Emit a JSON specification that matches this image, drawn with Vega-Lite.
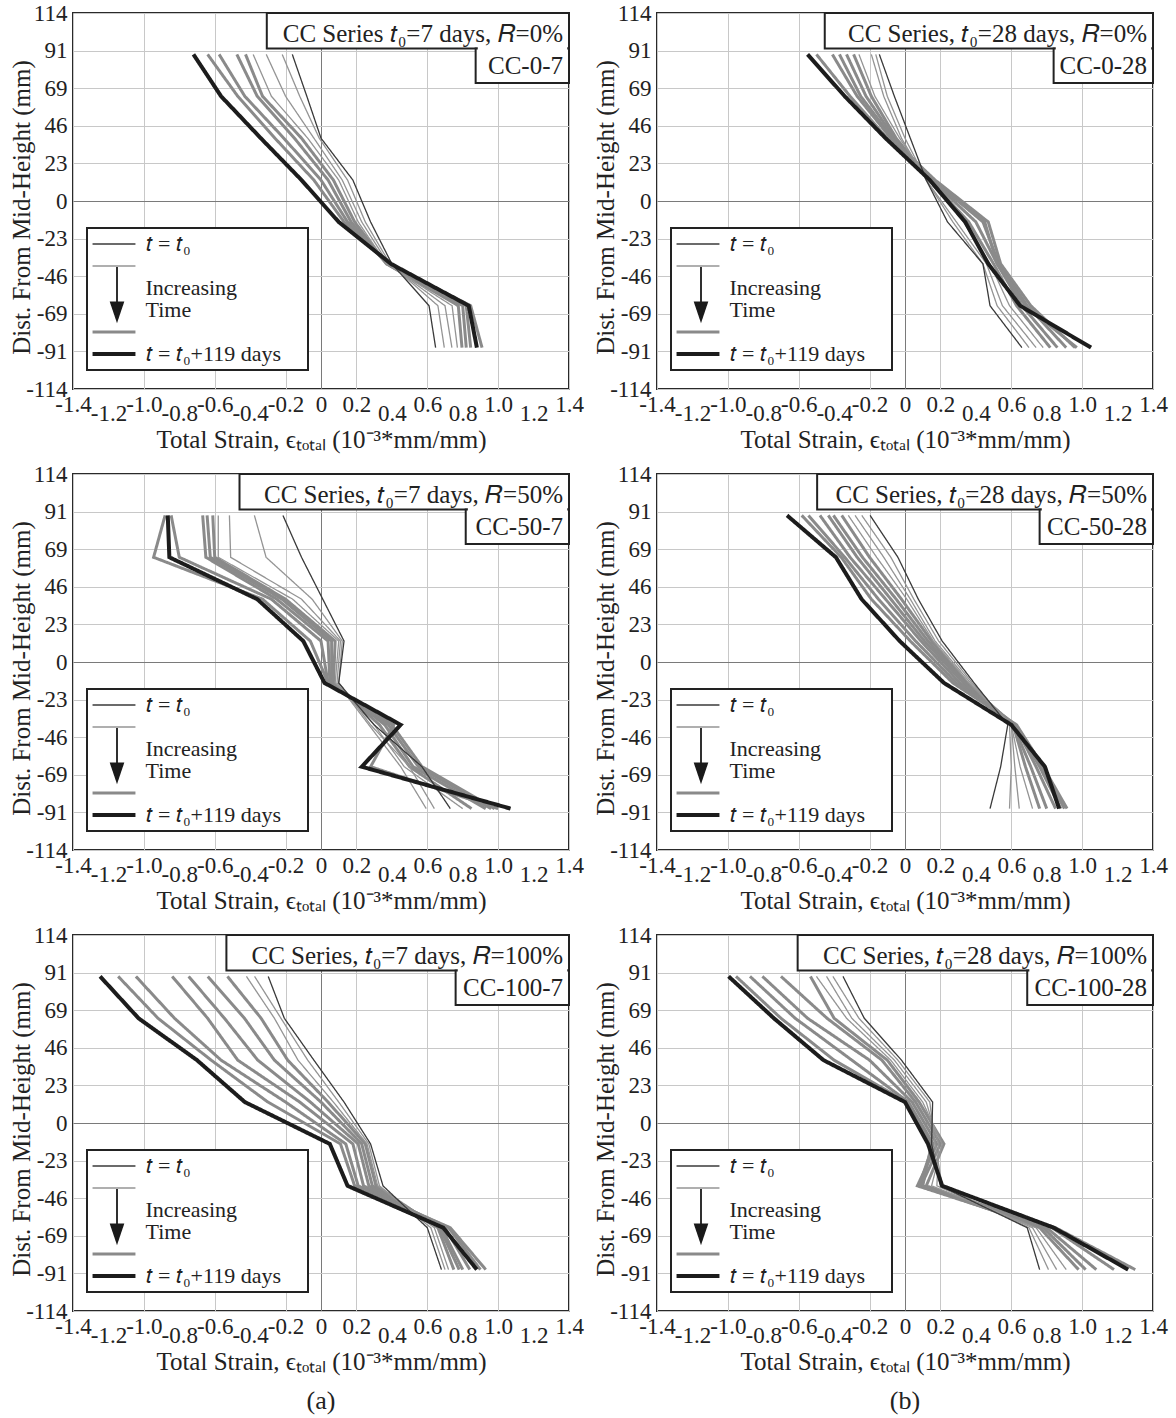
{
"$schema": "https://vega.github.io/schema/vega-lite/v6.json",
"background": "white",
"padding": {"left": 8, "top": 1, "right": 5, "bottom": 0},
"bounds": "flush",
"columns": 2,
"spacing": {"row": 85, "column": 88},
"config": {
 "font": "Liberation Serif",
 "view": {"stroke": "#2a2a2a", "strokeWidth": 2},
 "axis": {"labelFont": "Liberation Serif", "titleFont": "Liberation Serif", "labelFontSize": 23, "titleFontSize": 25, "titleFontWeight": "normal", "labelColor": "#222", "titleColor": "#222", "domain": false, "ticks": false, "grid": true, "gridWidth": 1, "gridColor": "#c8c8c8", "tickCount": 30},
 "title": {"font": "Liberation Serif", "fontSize": 26, "fontWeight": "normal", "color": "#222"},
 "text": {"font": "Liberation Serif"}
},
"resolve": {"scale": {"x": "independent", "y": "independent", "color": "independent", "strokeDash": "independent"}, "axis": {"x": "independent", "y": "independent"}, "legend": {"color": "independent", "strokeDash": "independent"}},
"datasets": {
"p1": [
{"c":5,"s":"c","e":-0.426,"y":88.9},{"c":5,"s":"c","e":-0.33,"y":63.5},{"c":5,"s":"c","e":-0.11,"y":38.1},{"c":5,"s":"c","e":0.07,"y":12.7},{"c":5,"s":"c","e":0.19,"y":-12.7},{"c":5,"s":"c","e":0.37,"y":-38.1},{"c":5,"s":"c","e":0.775,"y":-63.5},{"c":5,"s":"c","e":0.796,"y":-88.9},
{"c":6,"s":"c","e":-0.475,"y":88.9},{"c":6,"s":"c","e":-0.36,"y":63.5},{"c":6,"s":"c","e":-0.15,"y":38.1},{"c":6,"s":"c","e":0.04,"y":12.7},{"c":6,"s":"c","e":0.17,"y":-12.7},{"c":6,"s":"c","e":0.37,"y":-38.1},{"c":6,"s":"c","e":0.8,"y":-63.5},{"c":6,"s":"c","e":0.82,"y":-88.9},
{"c":7,"s":"c","e":-0.575,"y":88.9},{"c":7,"s":"c","e":-0.43,"y":63.5},{"c":7,"s":"c","e":-0.21,"y":38.1},{"c":7,"s":"c","e":0.0,"y":12.7},{"c":7,"s":"c","e":0.15,"y":-12.7},{"c":7,"s":"c","e":0.38,"y":-38.1},{"c":7,"s":"c","e":0.82,"y":-63.5},{"c":7,"s":"c","e":0.845,"y":-88.9},
{"c":8,"s":"c","e":-0.64,"y":88.9},{"c":8,"s":"c","e":-0.47,"y":63.5},{"c":8,"s":"c","e":-0.26,"y":38.1},{"c":8,"s":"c","e":-0.04,"y":12.7},{"c":8,"s":"c","e":0.13,"y":-12.7},{"c":8,"s":"c","e":0.38,"y":-38.1},{"c":8,"s":"c","e":0.845,"y":-63.5},{"c":8,"s":"c","e":0.909,"y":-88.9},
{"c":2,"s":"b","e":-0.219,"y":88.9},{"c":2,"s":"b","e":-0.12,"y":63.5},{"c":2,"s":"b","e":-0.01,"y":38.1},{"c":2,"s":"b","e":0.15,"y":12.7},{"c":2,"s":"b","e":0.25,"y":-12.7},{"c":2,"s":"b","e":0.39,"y":-38.1},{"c":2,"s":"b","e":0.66,"y":-63.5},{"c":2,"s":"b","e":0.696,"y":-88.9},
{"c":3,"s":"b","e":-0.309,"y":88.9},{"c":3,"s":"b","e":-0.2,"y":63.5},{"c":3,"s":"b","e":-0.04,"y":38.1},{"c":3,"s":"b","e":0.12,"y":12.7},{"c":3,"s":"b","e":0.23,"y":-12.7},{"c":3,"s":"b","e":0.38,"y":-38.1},{"c":3,"s":"b","e":0.7,"y":-63.5},{"c":3,"s":"b","e":0.739,"y":-88.9},
{"c":4,"s":"b","e":-0.383,"y":88.9},{"c":4,"s":"b","e":-0.28,"y":63.5},{"c":4,"s":"b","e":-0.075,"y":38.1},{"c":4,"s":"b","e":0.1,"y":12.7},{"c":4,"s":"b","e":0.21,"y":-12.7},{"c":4,"s":"b","e":0.37,"y":-38.1},{"c":4,"s":"b","e":0.74,"y":-63.5},{"c":4,"s":"b","e":0.77,"y":-88.9},
{"c":1,"s":"a","e":-0.162,"y":88.9},{"c":1,"s":"a","e":-0.08,"y":63.5},{"c":1,"s":"a","e":0.0,"y":38.1},{"c":1,"s":"a","e":0.18,"y":12.7},{"c":1,"s":"a","e":0.28,"y":-12.7},{"c":1,"s":"a","e":0.4,"y":-38.1},{"c":1,"s":"a","e":0.61,"y":-63.5},{"c":1,"s":"a","e":0.647,"y":-88.9},
{"c":9,"s":"d","e":-0.72,"y":88.9},{"c":9,"s":"d","e":-0.564,"y":63.5},{"c":9,"s":"d","e":-0.34,"y":38.1},{"c":9,"s":"d","e":-0.11,"y":12.7},{"c":9,"s":"d","e":0.1,"y":-12.7},{"c":9,"s":"d","e":0.395,"y":-38.1},{"c":9,"s":"d","e":0.834,"y":-63.5},{"c":9,"s":"d","e":0.88,"y":-88.9}
],
"p2": [
{"c":5,"s":"c","e":-0.29,"y":88.9},{"c":5,"s":"c","e":-0.19,"y":63.5},{"c":5,"s":"c","e":-0.05,"y":38.1},{"c":5,"s":"c","e":0.14,"y":12.7},{"c":5,"s":"c","e":0.36,"y":-12.7},{"c":5,"s":"c","e":0.5,"y":-38.1},{"c":5,"s":"c","e":0.63,"y":-63.5},{"c":5,"s":"c","e":0.82,"y":-88.9},
{"c":6,"s":"c","e":-0.33,"y":88.9},{"c":6,"s":"c","e":-0.22,"y":63.5},{"c":6,"s":"c","e":-0.06,"y":38.1},{"c":6,"s":"c","e":0.15,"y":12.7},{"c":6,"s":"c","e":0.4,"y":-12.7},{"c":6,"s":"c","e":0.52,"y":-38.1},{"c":6,"s":"c","e":0.66,"y":-63.5},{"c":6,"s":"c","e":0.86,"y":-88.9},
{"c":7,"s":"c","e":-0.37,"y":88.9},{"c":7,"s":"c","e":-0.25,"y":63.5},{"c":7,"s":"c","e":-0.07,"y":38.1},{"c":7,"s":"c","e":0.16,"y":12.7},{"c":7,"s":"c","e":0.44,"y":-12.7},{"c":7,"s":"c","e":0.53,"y":-38.1},{"c":7,"s":"c","e":0.69,"y":-63.5},{"c":7,"s":"c","e":0.91,"y":-88.9},
{"c":8,"s":"c","e":-0.41,"y":88.9},{"c":8,"s":"c","e":-0.27,"y":63.5},{"c":8,"s":"c","e":-0.08,"y":38.1},{"c":8,"s":"c","e":0.17,"y":12.7},{"c":8,"s":"c","e":0.47,"y":-12.7},{"c":8,"s":"c","e":0.54,"y":-38.1},{"c":8,"s":"c","e":0.71,"y":-63.5},{"c":8,"s":"c","e":0.96,"y":-88.9},
{"c":9,"s":"c","e":-0.5,"y":88.9},{"c":9,"s":"c","e":-0.31,"y":63.5},{"c":9,"s":"c","e":-0.1,"y":38.1},{"c":9,"s":"c","e":0.15,"y":12.7},{"c":9,"s":"c","e":0.45,"y":-12.7},{"c":9,"s":"c","e":0.52,"y":-38.1},{"c":9,"s":"c","e":0.68,"y":-63.5},{"c":9,"s":"c","e":0.97,"y":-88.9},
{"c":2,"s":"b","e":-0.165,"y":88.9},{"c":2,"s":"b","e":-0.1,"y":63.5},{"c":2,"s":"b","e":0.0,"y":38.1},{"c":2,"s":"b","e":0.12,"y":12.7},{"c":2,"s":"b","e":0.27,"y":-12.7},{"c":2,"s":"b","e":0.44,"y":-38.1},{"c":2,"s":"b","e":0.52,"y":-63.5},{"c":2,"s":"b","e":0.7,"y":-88.9},
{"c":3,"s":"b","e":-0.19,"y":88.9},{"c":3,"s":"b","e":-0.12,"y":63.5},{"c":3,"s":"b","e":-0.02,"y":38.1},{"c":3,"s":"b","e":0.12,"y":12.7},{"c":3,"s":"b","e":0.29,"y":-12.7},{"c":3,"s":"b","e":0.46,"y":-38.1},{"c":3,"s":"b","e":0.55,"y":-63.5},{"c":3,"s":"b","e":0.74,"y":-88.9},
{"c":4,"s":"b","e":-0.26,"y":88.9},{"c":4,"s":"b","e":-0.17,"y":63.5},{"c":4,"s":"b","e":-0.03,"y":38.1},{"c":4,"s":"b","e":0.13,"y":12.7},{"c":4,"s":"b","e":0.33,"y":-12.7},{"c":4,"s":"b","e":0.48,"y":-38.1},{"c":4,"s":"b","e":0.59,"y":-63.5},{"c":4,"s":"b","e":0.78,"y":-88.9},
{"c":1,"s":"a","e":-0.145,"y":88.9},{"c":1,"s":"a","e":-0.06,"y":63.5},{"c":1,"s":"a","e":0.03,"y":38.1},{"c":1,"s":"a","e":0.12,"y":12.7},{"c":1,"s":"a","e":0.24,"y":-12.7},{"c":1,"s":"a","e":0.44,"y":-38.1},{"c":1,"s":"a","e":0.48,"y":-63.5},{"c":1,"s":"a","e":0.66,"y":-88.9},
{"c":10,"s":"d","e":-0.55,"y":88.9},{"c":10,"s":"d","e":-0.34,"y":63.5},{"c":10,"s":"d","e":-0.11,"y":38.1},{"c":10,"s":"d","e":0.14,"y":12.7},{"c":10,"s":"d","e":0.34,"y":-12.7},{"c":10,"s":"d","e":0.47,"y":-38.1},{"c":10,"s":"d","e":0.65,"y":-63.5},{"c":10,"s":"d","e":1.05,"y":-88.9}
],
"p3": [
{"c":5,"s":"c","e":-0.611,"y":88.9},{"c":5,"s":"c","e":-0.6,"y":63.5},{"c":5,"s":"c","e":-0.2,"y":38.1},{"c":5,"s":"c","e":0.08,"y":12.7},{"c":5,"s":"c","e":0.07,"y":-12.7},{"c":5,"s":"c","e":0.33,"y":-38.1},{"c":5,"s":"c","e":0.5,"y":-63.5},{"c":5,"s":"c","e":0.85,"y":-88.9},
{"c":6,"s":"c","e":-0.643,"y":88.9},{"c":6,"s":"c","e":-0.625,"y":63.5},{"c":6,"s":"c","e":-0.22,"y":38.1},{"c":6,"s":"c","e":0.06,"y":12.7},{"c":6,"s":"c","e":0.06,"y":-12.7},{"c":6,"s":"c","e":0.36,"y":-38.1},{"c":6,"s":"c","e":0.52,"y":-63.5},{"c":6,"s":"c","e":0.93,"y":-88.9},
{"c":7,"s":"c","e":-0.668,"y":88.9},{"c":7,"s":"c","e":-0.65,"y":63.5},{"c":7,"s":"c","e":-0.25,"y":38.1},{"c":7,"s":"c","e":0.04,"y":12.7},{"c":7,"s":"c","e":0.05,"y":-12.7},{"c":7,"s":"c","e":0.38,"y":-38.1},{"c":7,"s":"c","e":0.55,"y":-63.5},{"c":7,"s":"c","e":0.96,"y":-88.9},
{"c":8,"s":"c","e":-0.846,"y":88.9},{"c":8,"s":"c","e":-0.8,"y":63.5},{"c":8,"s":"c","e":-0.28,"y":38.1},{"c":8,"s":"c","e":0.0,"y":12.7},{"c":8,"s":"c","e":0.04,"y":-12.7},{"c":8,"s":"c","e":0.4,"y":-38.1},{"c":8,"s":"c","e":0.57,"y":-63.5},{"c":8,"s":"c","e":0.98,"y":-88.9},
{"c":9,"s":"c","e":-0.88,"y":88.9},{"c":9,"s":"c","e":-0.945,"y":63.5},{"c":9,"s":"c","e":-0.33,"y":38.1},{"c":9,"s":"c","e":-0.06,"y":12.7},{"c":9,"s":"c","e":0.04,"y":-12.7},{"c":9,"s":"c","e":0.41,"y":-38.1},{"c":9,"s":"c","e":0.28,"y":-63.5},{"c":9,"s":"c","e":1.0,"y":-88.9},
{"c":2,"s":"b","e":-0.376,"y":88.9},{"c":2,"s":"b","e":-0.31,"y":63.5},{"c":2,"s":"b","e":-0.05,"y":38.1},{"c":2,"s":"b","e":0.12,"y":12.7},{"c":2,"s":"b","e":0.1,"y":-12.7},{"c":2,"s":"b","e":0.28,"y":-38.1},{"c":2,"s":"b","e":0.5,"y":-63.5},{"c":2,"s":"b","e":0.64,"y":-88.9},
{"c":3,"s":"b","e":-0.517,"y":88.9},{"c":3,"s":"b","e":-0.51,"y":63.5},{"c":3,"s":"b","e":-0.11,"y":38.1},{"c":3,"s":"b","e":0.11,"y":12.7},{"c":3,"s":"b","e":0.09,"y":-12.7},{"c":3,"s":"b","e":0.27,"y":-38.1},{"c":3,"s":"b","e":0.45,"y":-63.5},{"c":3,"s":"b","e":0.594,"y":-88.9},
{"c":4,"s":"b","e":-0.58,"y":88.9},{"c":4,"s":"b","e":-0.58,"y":63.5},{"c":4,"s":"b","e":-0.16,"y":38.1},{"c":4,"s":"b","e":0.1,"y":12.7},{"c":4,"s":"b","e":0.08,"y":-12.7},{"c":4,"s":"b","e":0.3,"y":-38.1},{"c":4,"s":"b","e":0.47,"y":-63.5},{"c":4,"s":"b","e":0.8,"y":-88.9},
{"c":1,"s":"a","e":-0.215,"y":88.9},{"c":1,"s":"a","e":-0.11,"y":63.5},{"c":1,"s":"a","e":0.01,"y":38.1},{"c":1,"s":"a","e":0.13,"y":12.7},{"c":1,"s":"a","e":0.1,"y":-12.7},{"c":1,"s":"a","e":0.3,"y":-38.1},{"c":1,"s":"a","e":0.57,"y":-63.5},{"c":1,"s":"a","e":0.73,"y":-88.9},
{"c":10,"s":"d","e":-0.865,"y":88.9},{"c":10,"s":"d","e":-0.856,"y":63.5},{"c":10,"s":"d","e":-0.36,"y":38.1},{"c":10,"s":"d","e":-0.1,"y":12.7},{"c":10,"s":"d","e":0.02,"y":-12.7},{"c":10,"s":"d","e":0.45,"y":-38.1},{"c":10,"s":"d","e":0.23,"y":-63.5},{"c":10,"s":"d","e":1.07,"y":-88.9}
],
"p4": [
{"c":5,"s":"c","e":-0.357,"y":88.9},{"c":5,"s":"c","e":-0.2,"y":63.5},{"c":5,"s":"c","e":-0.02,"y":38.1},{"c":5,"s":"c","e":0.15,"y":12.7},{"c":5,"s":"c","e":0.35,"y":-12.7},{"c":5,"s":"c","e":0.61,"y":-38.1},{"c":5,"s":"c","e":0.68,"y":-63.5},{"c":5,"s":"c","e":0.76,"y":-88.9},
{"c":6,"s":"c","e":-0.404,"y":88.9},{"c":6,"s":"c","e":-0.24,"y":63.5},{"c":6,"s":"c","e":-0.05,"y":38.1},{"c":6,"s":"c","e":0.13,"y":12.7},{"c":6,"s":"c","e":0.34,"y":-12.7},{"c":6,"s":"c","e":0.61,"y":-38.1},{"c":6,"s":"c","e":0.71,"y":-63.5},{"c":6,"s":"c","e":0.8,"y":-88.9},
{"c":7,"s":"c","e":-0.433,"y":88.9},{"c":7,"s":"c","e":-0.27,"y":63.5},{"c":7,"s":"c","e":-0.08,"y":38.1},{"c":7,"s":"c","e":0.11,"y":12.7},{"c":7,"s":"c","e":0.33,"y":-12.7},{"c":7,"s":"c","e":0.62,"y":-38.1},{"c":7,"s":"c","e":0.74,"y":-63.5},{"c":7,"s":"c","e":0.85,"y":-88.9},
{"c":8,"s":"c","e":-0.48,"y":88.9},{"c":8,"s":"c","e":-0.31,"y":63.5},{"c":8,"s":"c","e":-0.11,"y":38.1},{"c":8,"s":"c","e":0.09,"y":12.7},{"c":8,"s":"c","e":0.31,"y":-12.7},{"c":8,"s":"c","e":0.62,"y":-38.1},{"c":8,"s":"c","e":0.76,"y":-63.5},{"c":8,"s":"c","e":0.88,"y":-88.9},
{"c":9,"s":"c","e":-0.545,"y":88.9},{"c":9,"s":"c","e":-0.34,"y":63.5},{"c":9,"s":"c","e":-0.15,"y":38.1},{"c":9,"s":"c","e":0.06,"y":12.7},{"c":9,"s":"c","e":0.29,"y":-12.7},{"c":9,"s":"c","e":0.62,"y":-38.1},{"c":9,"s":"c","e":0.77,"y":-63.5},{"c":9,"s":"c","e":0.9,"y":-88.9},
{"c":10,"s":"c","e":-0.583,"y":88.9},{"c":10,"s":"c","e":-0.36,"y":63.5},{"c":10,"s":"c","e":-0.19,"y":38.1},{"c":10,"s":"c","e":0.03,"y":12.7},{"c":10,"s":"c","e":0.27,"y":-12.7},{"c":10,"s":"c","e":0.63,"y":-38.1},{"c":10,"s":"c","e":0.78,"y":-63.5},{"c":10,"s":"c","e":0.915,"y":-88.9},
{"c":2,"s":"b","e":-0.244,"y":88.9},{"c":2,"s":"b","e":-0.08,"y":63.5},{"c":2,"s":"b","e":0.05,"y":38.1},{"c":2,"s":"b","e":0.19,"y":12.7},{"c":2,"s":"b","e":0.38,"y":-12.7},{"c":2,"s":"b","e":0.59,"y":-38.1},{"c":2,"s":"b","e":0.6,"y":-63.5},{"c":2,"s":"b","e":0.59,"y":-88.9},
{"c":3,"s":"b","e":-0.282,"y":88.9},{"c":3,"s":"b","e":-0.12,"y":63.5},{"c":3,"s":"b","e":0.03,"y":38.1},{"c":3,"s":"b","e":0.17,"y":12.7},{"c":3,"s":"b","e":0.37,"y":-12.7},{"c":3,"s":"b","e":0.6,"y":-38.1},{"c":3,"s":"b","e":0.62,"y":-63.5},{"c":3,"s":"b","e":0.645,"y":-88.9},
{"c":4,"s":"b","e":-0.32,"y":88.9},{"c":4,"s":"b","e":-0.16,"y":63.5},{"c":4,"s":"b","e":0.01,"y":38.1},{"c":4,"s":"b","e":0.16,"y":12.7},{"c":4,"s":"b","e":0.36,"y":-12.7},{"c":4,"s":"b","e":0.6,"y":-38.1},{"c":4,"s":"b","e":0.65,"y":-63.5},{"c":4,"s":"b","e":0.72,"y":-88.9},
{"c":1,"s":"a","e":-0.197,"y":88.9},{"c":1,"s":"a","e":-0.04,"y":63.5},{"c":1,"s":"a","e":0.075,"y":38.1},{"c":1,"s":"a","e":0.21,"y":12.7},{"c":1,"s":"a","e":0.39,"y":-12.7},{"c":1,"s":"a","e":0.58,"y":-38.1},{"c":1,"s":"a","e":0.54,"y":-63.5},{"c":1,"s":"a","e":0.48,"y":-88.9},
{"c":11,"s":"d","e":-0.666,"y":88.9},{"c":11,"s":"d","e":-0.39,"y":63.5},{"c":11,"s":"d","e":-0.245,"y":38.1},{"c":11,"s":"d","e":-0.03,"y":12.7},{"c":11,"s":"d","e":0.22,"y":-12.7},{"c":11,"s":"d","e":0.6,"y":-38.1},{"c":11,"s":"d","e":0.79,"y":-63.5},{"c":11,"s":"d","e":0.87,"y":-88.9}
],
"p5": [
{"c":4,"s":"c","e":-0.528,"y":88.9},{"c":4,"s":"c","e":-0.338,"y":63.5},{"c":4,"s":"c","e":-0.188,"y":38.1},{"c":4,"s":"c","e":0.04,"y":12.7},{"c":4,"s":"c","e":0.25,"y":-12.7},{"c":4,"s":"c","e":0.31,"y":-38.1},{"c":4,"s":"c","e":0.66,"y":-63.5},{"c":4,"s":"c","e":0.75,"y":-88.9},
{"c":5,"s":"c","e":-0.639,"y":88.9},{"c":5,"s":"c","e":-0.432,"y":63.5},{"c":5,"s":"c","e":-0.263,"y":38.1},{"c":5,"s":"c","e":0.0,"y":12.7},{"c":5,"s":"c","e":0.23,"y":-12.7},{"c":5,"s":"c","e":0.29,"y":-38.1},{"c":5,"s":"c","e":0.67,"y":-63.5},{"c":5,"s":"c","e":0.78,"y":-88.9},
{"c":6,"s":"c","e":-0.747,"y":88.9},{"c":6,"s":"c","e":-0.545,"y":63.5},{"c":6,"s":"c","e":-0.357,"y":38.1},{"c":6,"s":"c","e":-0.06,"y":12.7},{"c":6,"s":"c","e":0.21,"y":-12.7},{"c":6,"s":"c","e":0.27,"y":-38.1},{"c":6,"s":"c","e":0.68,"y":-63.5},{"c":6,"s":"c","e":0.8,"y":-88.9},
{"c":7,"s":"c","e":-0.84,"y":88.9},{"c":7,"s":"c","e":-0.64,"y":63.5},{"c":7,"s":"c","e":-0.47,"y":38.1},{"c":7,"s":"c","e":-0.12,"y":12.7},{"c":7,"s":"c","e":0.18,"y":-12.7},{"c":7,"s":"c","e":0.24,"y":-38.1},{"c":7,"s":"c","e":0.7,"y":-63.5},{"c":7,"s":"c","e":0.84,"y":-88.9},
{"c":8,"s":"c","e":-1.045,"y":88.9},{"c":8,"s":"c","e":-0.827,"y":63.5},{"c":8,"s":"c","e":-0.564,"y":38.1},{"c":8,"s":"c","e":-0.2,"y":12.7},{"c":8,"s":"c","e":0.14,"y":-12.7},{"c":8,"s":"c","e":0.21,"y":-38.1},{"c":8,"s":"c","e":0.72,"y":-63.5},{"c":8,"s":"c","e":0.9,"y":-88.9},
{"c":9,"s":"c","e":-1.145,"y":88.9},{"c":9,"s":"c","e":-0.92,"y":63.5},{"c":9,"s":"c","e":-0.62,"y":38.1},{"c":9,"s":"c","e":-0.3,"y":12.7},{"c":9,"s":"c","e":0.11,"y":-12.7},{"c":9,"s":"c","e":0.19,"y":-38.1},{"c":9,"s":"c","e":0.73,"y":-63.5},{"c":9,"s":"c","e":0.93,"y":-88.9},
{"c":2,"s":"b","e":-0.375,"y":88.9},{"c":2,"s":"b","e":-0.226,"y":63.5},{"c":2,"s":"b","e":-0.075,"y":38.1},{"c":2,"s":"b","e":0.1,"y":12.7},{"c":2,"s":"b","e":0.27,"y":-12.7},{"c":2,"s":"b","e":0.33,"y":-38.1},{"c":2,"s":"b","e":0.62,"y":-63.5},{"c":2,"s":"b","e":0.7,"y":-88.9},
{"c":3,"s":"b","e":-0.421,"y":88.9},{"c":3,"s":"b","e":-0.263,"y":63.5},{"c":3,"s":"b","e":-0.13,"y":38.1},{"c":3,"s":"b","e":0.07,"y":12.7},{"c":3,"s":"b","e":0.26,"y":-12.7},{"c":3,"s":"b","e":0.32,"y":-38.1},{"c":3,"s":"b","e":0.64,"y":-63.5},{"c":3,"s":"b","e":0.72,"y":-88.9},
{"c":1,"s":"a","e":-0.298,"y":88.9},{"c":1,"s":"a","e":-0.207,"y":63.5},{"c":1,"s":"a","e":-0.04,"y":38.1},{"c":1,"s":"a","e":0.13,"y":12.7},{"c":1,"s":"a","e":0.28,"y":-12.7},{"c":1,"s":"a","e":0.35,"y":-38.1},{"c":1,"s":"a","e":0.6,"y":-63.5},{"c":1,"s":"a","e":0.68,"y":-88.9},
{"c":10,"s":"d","e":-1.247,"y":88.9},{"c":10,"s":"d","e":-1.03,"y":63.5},{"c":10,"s":"d","e":-0.7,"y":38.1},{"c":10,"s":"d","e":-0.43,"y":12.7},{"c":10,"s":"d","e":0.05,"y":-12.7},{"c":10,"s":"d","e":0.15,"y":-38.1},{"c":10,"s":"d","e":0.69,"y":-63.5},{"c":10,"s":"d","e":0.88,"y":-88.9}
],
"p6": [
{"c":5,"s":"c","e":-0.534,"y":88.9},{"c":5,"s":"c","e":-0.4,"y":63.5},{"c":5,"s":"c","e":-0.1,"y":38.1},{"c":5,"s":"c","e":0.08,"y":12.7},{"c":5,"s":"c","e":0.22,"y":-12.7},{"c":5,"s":"c","e":0.12,"y":-38.1},{"c":5,"s":"c","e":0.76,"y":-63.5},{"c":5,"s":"c","e":0.98,"y":-88.9},
{"c":6,"s":"c","e":-0.7,"y":88.9},{"c":6,"s":"c","e":-0.44,"y":63.5},{"c":6,"s":"c","e":-0.13,"y":38.1},{"c":6,"s":"c","e":0.06,"y":12.7},{"c":6,"s":"c","e":0.2,"y":-12.7},{"c":6,"s":"c","e":0.09,"y":-38.1},{"c":6,"s":"c","e":0.78,"y":-63.5},{"c":6,"s":"c","e":1.02,"y":-88.9},
{"c":7,"s":"c","e":-0.805,"y":88.9},{"c":7,"s":"c","e":-0.55,"y":63.5},{"c":7,"s":"c","e":-0.2,"y":38.1},{"c":7,"s":"c","e":0.04,"y":12.7},{"c":7,"s":"c","e":0.18,"y":-12.7},{"c":7,"s":"c","e":0.07,"y":-38.1},{"c":7,"s":"c","e":0.8,"y":-63.5},{"c":7,"s":"c","e":1.08,"y":-88.9},
{"c":8,"s":"c","e":-0.875,"y":88.9},{"c":8,"s":"c","e":-0.62,"y":63.5},{"c":8,"s":"c","e":-0.3,"y":38.1},{"c":8,"s":"c","e":0.02,"y":12.7},{"c":8,"s":"c","e":0.16,"y":-12.7},{"c":8,"s":"c","e":0.08,"y":-38.1},{"c":8,"s":"c","e":0.83,"y":-63.5},{"c":8,"s":"c","e":1.18,"y":-88.9},
{"c":9,"s":"c","e":-0.954,"y":88.9},{"c":9,"s":"c","e":-0.7,"y":63.5},{"c":9,"s":"c","e":-0.4,"y":38.1},{"c":9,"s":"c","e":0.01,"y":12.7},{"c":9,"s":"c","e":0.15,"y":-12.7},{"c":9,"s":"c","e":0.1,"y":-38.1},{"c":9,"s":"c","e":0.85,"y":-63.5},{"c":9,"s":"c","e":1.3,"y":-88.9},
{"c":2,"s":"b","e":-0.407,"y":88.9},{"c":2,"s":"b","e":-0.26,"y":63.5},{"c":2,"s":"b","e":-0.04,"y":38.1},{"c":2,"s":"b","e":0.14,"y":12.7},{"c":2,"s":"b","e":0.17,"y":-12.7},{"c":2,"s":"b","e":0.21,"y":-38.1},{"c":2,"s":"b","e":0.7,"y":-63.5},{"c":2,"s":"b","e":0.81,"y":-88.9},
{"c":3,"s":"b","e":-0.443,"y":88.9},{"c":3,"s":"b","e":-0.3,"y":63.5},{"c":3,"s":"b","e":-0.06,"y":38.1},{"c":3,"s":"b","e":0.12,"y":12.7},{"c":3,"s":"b","e":0.19,"y":-12.7},{"c":3,"s":"b","e":0.18,"y":-38.1},{"c":3,"s":"b","e":0.72,"y":-63.5},{"c":3,"s":"b","e":0.856,"y":-88.9},
{"c":4,"s":"b","e":-0.5,"y":88.9},{"c":4,"s":"b","e":-0.33,"y":63.5},{"c":4,"s":"b","e":-0.08,"y":38.1},{"c":4,"s":"b","e":0.1,"y":12.7},{"c":4,"s":"b","e":0.21,"y":-12.7},{"c":4,"s":"b","e":0.15,"y":-38.1},{"c":4,"s":"b","e":0.74,"y":-63.5},{"c":4,"s":"b","e":0.91,"y":-88.9},
{"c":1,"s":"a","e":-0.35,"y":88.9},{"c":1,"s":"a","e":-0.23,"y":63.5},{"c":1,"s":"a","e":-0.02,"y":38.1},{"c":1,"s":"a","e":0.156,"y":12.7},{"c":1,"s":"a","e":0.15,"y":-12.7},{"c":1,"s":"a","e":0.2,"y":-38.1},{"c":1,"s":"a","e":0.69,"y":-63.5},{"c":1,"s":"a","e":0.76,"y":-88.9},
{"c":10,"s":"d","e":-0.996,"y":88.9},{"c":10,"s":"d","e":-0.74,"y":63.5},{"c":10,"s":"d","e":-0.46,"y":38.1},{"c":10,"s":"d","e":0.0,"y":12.7},{"c":10,"s":"d","e":0.13,"y":-12.7},{"c":10,"s":"d","e":0.21,"y":-38.1},{"c":10,"s":"d","e":0.84,"y":-63.5},{"c":10,"s":"d","e":1.26,"y":-88.9}
]
},
"concat": [
{"width": 496, "height": 376, "resolve": {"axis": {"x": "independent"}}, "layer": [
 {"data": {"name": "p1"}, "mark": {"type": "line"}, "encoding": {
  "x": {"field": "e", "type": "quantitative", "scale": {"domain": [-1.4, 1.4], "nice": false, "zero": false}, "axis": {"orient": "bottom", "values": [-1.4,-1.0,-0.6,-0.2,0,0.2,0.6,1.0,1.4], "tickCount": 30, "labelExpr": "datum.value == 0 ? '0' : (datum.value < 0 ? '-' : '') + format(abs(datum.value), '.1f')", "labelOverlap": false, "labelBound": false, "labelFlush": false, "labelPadding": 4, "gridColor": {"condition": {"test": "datum.value === 0", "value": "#7a7a7a"}, "value": "#c8c8c8"}, "title": "Total Strain, ϵₜₒₜₐₗ (10⁻³*mm/mm)", "titleY": 50, "titleBaseline": "middle"}},
  "y": {"field": "y", "type": "quantitative", "scale": {"domain": [-114, 114], "nice": false, "zero": false}, "axis": {"values": [-114,-91.2,-68.4,-45.6,-22.8,0,22.8,45.6,68.4,91.2,114], "tickCount": 30, "labelExpr": "(datum.value < 0 ? '-' : '') + (abs(round(datum.value*10)) == 684 ? '69' : format(abs(datum.value), '.0f'))", "labelOverlap": false, "labelPadding": 6, "gridColor": {"condition": {"test": "datum.value === 0", "value": "#7a7a7a"}, "value": "#c8c8c8"}, "title": "Dist. From Mid-Height (mm)", "titleX": -52, "titleY": 194, "titleBaseline": "middle", "titleAlign": "center"}},
  "detail": {"field": "c", "type": "nominal"},
  "order": {"field": "y", "sort": "descending"},
  "color": {"field": "s", "type": "nominal", "scale": {"domain": ["a","b","inc","time","c","d"], "range": ["#3a3a3a","#949494","#1a1a1a","#1a1a1a","#8a8a8a","#1c1c1c"]}, "legend": {"orient": "none", "legendX": 14, "legendY": 215, "title": null, "padding": 5, "rowPadding": 0, "symbolSize": 121, "symbolOffset": 11, "labelOffset": 20.5, "labelFont": "Liberation Serif", "labelFontSize": 22, "labelColor": "#222", "labelLimit": 400, "fillColor": "white", "strokeColor": "#222", "labelExpr": "({'a': '𝑡 = 𝑡₀', 'b': '', 'inc': 'Increasing', 'time': 'Time', 'c': '', 'd': '𝑡 = 𝑡₀+119 days\u00a0\u2800'})[datum.value]", "encode": {"symbols": {"update": {"shape": {"signal": "(datum.value === 'inc' || datum.value === 'time') ? 'M0,0' : 'M-3.9,0H3.9'"}, "strokeWidth": {"signal": "datum.value === 'c' ? 3.2 : datum.value === 'd' ? 4 : 1.3"}, "fill": {"value": "transparent"}}}, "legend": {"update": {"strokeWidth": {"value": 2}}}}}},
  "strokeDash": {"datum": "arrow", "type": "nominal", "scale": {"domain": ["arrow"], "range": [[1, 0]]}, "legend": {"orient": "none", "legendX": 37.5, "legendY": 274.2, "zindex": 1, "title": null, "padding": 0, "symbolSize": 121, "symbolOffset": 0, "labelFontSize": 10, "labelExpr": "''", "encode": {"symbols": {"update": {"shape": {"value": "M0,-4.85V2M-1.1,1.6L0,4.85L1.1,1.6Z"}, "fill": {"value": "#1a1a1a"}, "stroke": {"value": "#1a1a1a"}, "strokeWidth": {"value": 1.8}, "strokeDash": {"value": [1, 0]}, "opacity": {"value": 1}}}}}},
  "strokeWidth": {"condition": [{"test": "datum.s === 'c'", "value": 3}, {"test": "datum.s === 'd'", "value": 4}], "value": 1.3}
 }},
 {"data": {"values": [{}]}, "mark": {"type": "rect", "fill": "white", "stroke": "#222", "strokeWidth": 2}, "encoding": {"x": {"datum": -0.306, "type": "quantitative", "axis": {"orient": "bottom", "values": [-1.2,-0.8,-0.4,0.4,0.8,1.2], "tickCount": 30, "labelExpr": "(datum.value < 0 ? '-' : '') + format(abs(datum.value), '.1f')", "labelOverlap": false, "labelBound": false, "labelFlush": false, "labelPadding": 13, "title": null}}, "x2": {"datum": 1.4}, "y": {"datum": 92.4}, "y2": {"datum": 114}}},
 {"data": {"values": [{}]}, "mark": {"type": "rect", "fill": "white", "stroke": "#222", "strokeWidth": 2}, "encoding": {"x": {"datum": 0.873, "type": "quantitative", "axis": null}, "x2": {"datum": 1.4}, "y": {"datum": 71.6}, "y2": {"datum": 92.4}}},
 {"data": {"values": [{}]}, "mark": {"type": "rule", "stroke": "white", "strokeWidth": 3}, "encoding": {"x": {"datum": 0.885, "type": "quantitative", "axis": null}, "x2": {"datum": 1.39}, "y": {"datum": 92.4}}},
 {"data": {"values": [{}]}, "mark": {"type": "text", "align": "right", "baseline": "middle", "fontSize": 25, "color": "#222"}, "encoding": {"x": {"datum": 1.366, "type": "quantitative", "axis": null}, "y": {"datum": 101.5}, "text": {"value": "CC Series 𝑡₀=7 days, 𝑅=0%"}}},
 {"data": {"values": [{}]}, "mark": {"type": "text", "align": "right", "baseline": "middle", "fontSize": 25, "color": "#222"}, "encoding": {"x": {"datum": 1.366, "type": "quantitative", "axis": null}, "y": {"datum": 82}, "text": {"value": "CC-0-7"}}}
]},
{"width": 496, "height": 376, "resolve": {"axis": {"x": "independent"}}, "layer": [
 {"data": {"name": "p2"}, "mark": {"type": "line"}, "encoding": {
  "x": {"field": "e", "type": "quantitative", "scale": {"domain": [-1.4, 1.4], "nice": false, "zero": false}, "axis": {"orient": "bottom", "values": [-1.4,-1.0,-0.6,-0.2,0,0.2,0.6,1.0,1.4], "tickCount": 30, "labelExpr": "datum.value == 0 ? '0' : (datum.value < 0 ? '-' : '') + format(abs(datum.value), '.1f')", "labelOverlap": false, "labelBound": false, "labelFlush": false, "labelPadding": 4, "gridColor": {"condition": {"test": "datum.value === 0", "value": "#7a7a7a"}, "value": "#c8c8c8"}, "title": "Total Strain, ϵₜₒₜₐₗ (10⁻³*mm/mm)", "titleY": 50, "titleBaseline": "middle"}},
  "y": {"field": "y", "type": "quantitative", "scale": {"domain": [-114, 114], "nice": false, "zero": false}, "axis": {"values": [-114,-91.2,-68.4,-45.6,-22.8,0,22.8,45.6,68.4,91.2,114], "tickCount": 30, "labelExpr": "(datum.value < 0 ? '-' : '') + (abs(round(datum.value*10)) == 684 ? '69' : format(abs(datum.value), '.0f'))", "labelOverlap": false, "labelPadding": 6, "gridColor": {"condition": {"test": "datum.value === 0", "value": "#7a7a7a"}, "value": "#c8c8c8"}, "title": "Dist. From Mid-Height (mm)", "titleX": -52, "titleY": 194, "titleBaseline": "middle", "titleAlign": "center"}},
  "detail": {"field": "c", "type": "nominal"},
  "order": {"field": "y", "sort": "descending"},
  "color": {"field": "s", "type": "nominal", "scale": {"domain": ["a","b","inc","time","c","d"], "range": ["#3a3a3a","#949494","#1a1a1a","#1a1a1a","#8a8a8a","#1c1c1c"]}, "legend": {"orient": "none", "legendX": 14, "legendY": 215, "title": null, "padding": 5, "rowPadding": 0, "symbolSize": 121, "symbolOffset": 11, "labelOffset": 20.5, "labelFont": "Liberation Serif", "labelFontSize": 22, "labelColor": "#222", "labelLimit": 400, "fillColor": "white", "strokeColor": "#222", "labelExpr": "({'a': '𝑡 = 𝑡₀', 'b': '', 'inc': 'Increasing', 'time': 'Time', 'c': '', 'd': '𝑡 = 𝑡₀+119 days\u00a0\u2800'})[datum.value]", "encode": {"symbols": {"update": {"shape": {"signal": "(datum.value === 'inc' || datum.value === 'time') ? 'M0,0' : 'M-3.9,0H3.9'"}, "strokeWidth": {"signal": "datum.value === 'c' ? 3.2 : datum.value === 'd' ? 4 : 1.3"}, "fill": {"value": "transparent"}}}, "legend": {"update": {"strokeWidth": {"value": 2}}}}}},
  "strokeDash": {"datum": "arrow", "type": "nominal", "scale": {"domain": ["arrow"], "range": [[1, 0]]}, "legend": {"orient": "none", "legendX": 37.5, "legendY": 274.2, "zindex": 1, "title": null, "padding": 0, "symbolSize": 121, "symbolOffset": 0, "labelFontSize": 10, "labelExpr": "''", "encode": {"symbols": {"update": {"shape": {"value": "M0,-4.85V2M-1.1,1.6L0,4.85L1.1,1.6Z"}, "fill": {"value": "#1a1a1a"}, "stroke": {"value": "#1a1a1a"}, "strokeWidth": {"value": 1.8}, "strokeDash": {"value": [1, 0]}, "opacity": {"value": 1}}}}}},
  "strokeWidth": {"condition": [{"test": "datum.s === 'c'", "value": 3}, {"test": "datum.s === 'd'", "value": 4}], "value": 1.3}
 }},
 {"data": {"values": [{}]}, "mark": {"type": "rect", "fill": "white", "stroke": "#222", "strokeWidth": 2}, "encoding": {"x": {"datum": -0.453, "type": "quantitative", "axis": {"orient": "bottom", "values": [-1.2,-0.8,-0.4,0.4,0.8,1.2], "tickCount": 30, "labelExpr": "(datum.value < 0 ? '-' : '') + format(abs(datum.value), '.1f')", "labelOverlap": false, "labelBound": false, "labelFlush": false, "labelPadding": 13, "title": null}}, "x2": {"datum": 1.4}, "y": {"datum": 92.4}, "y2": {"datum": 114}}},
 {"data": {"values": [{}]}, "mark": {"type": "rect", "fill": "white", "stroke": "#222", "strokeWidth": 2}, "encoding": {"x": {"datum": 0.839, "type": "quantitative", "axis": null}, "x2": {"datum": 1.4}, "y": {"datum": 71.6}, "y2": {"datum": 92.4}}},
 {"data": {"values": [{}]}, "mark": {"type": "rule", "stroke": "white", "strokeWidth": 3}, "encoding": {"x": {"datum": 0.851, "type": "quantitative", "axis": null}, "x2": {"datum": 1.39}, "y": {"datum": 92.4}}},
 {"data": {"values": [{}]}, "mark": {"type": "text", "align": "right", "baseline": "middle", "fontSize": 25, "color": "#222"}, "encoding": {"x": {"datum": 1.366, "type": "quantitative", "axis": null}, "y": {"datum": 101.5}, "text": {"value": "CC Series, 𝑡₀=28 days, 𝑅=0%"}}},
 {"data": {"values": [{}]}, "mark": {"type": "text", "align": "right", "baseline": "middle", "fontSize": 25, "color": "#222"}, "encoding": {"x": {"datum": 1.366, "type": "quantitative", "axis": null}, "y": {"datum": 82}, "text": {"value": "CC-0-28"}}}
]},
{"width": 496, "height": 376, "resolve": {"axis": {"x": "independent"}}, "layer": [
 {"data": {"name": "p3"}, "mark": {"type": "line"}, "encoding": {
  "x": {"field": "e", "type": "quantitative", "scale": {"domain": [-1.4, 1.4], "nice": false, "zero": false}, "axis": {"orient": "bottom", "values": [-1.4,-1.0,-0.6,-0.2,0,0.2,0.6,1.0,1.4], "tickCount": 30, "labelExpr": "datum.value == 0 ? '0' : (datum.value < 0 ? '-' : '') + format(abs(datum.value), '.1f')", "labelOverlap": false, "labelBound": false, "labelFlush": false, "labelPadding": 4, "gridColor": {"condition": {"test": "datum.value === 0", "value": "#7a7a7a"}, "value": "#c8c8c8"}, "title": "Total Strain, ϵₜₒₜₐₗ (10⁻³*mm/mm)", "titleY": 50, "titleBaseline": "middle"}},
  "y": {"field": "y", "type": "quantitative", "scale": {"domain": [-114, 114], "nice": false, "zero": false}, "axis": {"values": [-114,-91.2,-68.4,-45.6,-22.8,0,22.8,45.6,68.4,91.2,114], "tickCount": 30, "labelExpr": "(datum.value < 0 ? '-' : '') + (abs(round(datum.value*10)) == 684 ? '69' : format(abs(datum.value), '.0f'))", "labelOverlap": false, "labelPadding": 6, "gridColor": {"condition": {"test": "datum.value === 0", "value": "#7a7a7a"}, "value": "#c8c8c8"}, "title": "Dist. From Mid-Height (mm)", "titleX": -52, "titleY": 194, "titleBaseline": "middle", "titleAlign": "center"}},
  "detail": {"field": "c", "type": "nominal"},
  "order": {"field": "y", "sort": "descending"},
  "color": {"field": "s", "type": "nominal", "scale": {"domain": ["a","b","inc","time","c","d"], "range": ["#3a3a3a","#949494","#1a1a1a","#1a1a1a","#8a8a8a","#1c1c1c"]}, "legend": {"orient": "none", "legendX": 14, "legendY": 215, "title": null, "padding": 5, "rowPadding": 0, "symbolSize": 121, "symbolOffset": 11, "labelOffset": 20.5, "labelFont": "Liberation Serif", "labelFontSize": 22, "labelColor": "#222", "labelLimit": 400, "fillColor": "white", "strokeColor": "#222", "labelExpr": "({'a': '𝑡 = 𝑡₀', 'b': '', 'inc': 'Increasing', 'time': 'Time', 'c': '', 'd': '𝑡 = 𝑡₀+119 days\u00a0\u2800'})[datum.value]", "encode": {"symbols": {"update": {"shape": {"signal": "(datum.value === 'inc' || datum.value === 'time') ? 'M0,0' : 'M-3.9,0H3.9'"}, "strokeWidth": {"signal": "datum.value === 'c' ? 3.2 : datum.value === 'd' ? 4 : 1.3"}, "fill": {"value": "transparent"}}}, "legend": {"update": {"strokeWidth": {"value": 2}}}}}},
  "strokeDash": {"datum": "arrow", "type": "nominal", "scale": {"domain": ["arrow"], "range": [[1, 0]]}, "legend": {"orient": "none", "legendX": 37.5, "legendY": 274.2, "zindex": 1, "title": null, "padding": 0, "symbolSize": 121, "symbolOffset": 0, "labelFontSize": 10, "labelExpr": "''", "encode": {"symbols": {"update": {"shape": {"value": "M0,-4.85V2M-1.1,1.6L0,4.85L1.1,1.6Z"}, "fill": {"value": "#1a1a1a"}, "stroke": {"value": "#1a1a1a"}, "strokeWidth": {"value": 1.8}, "strokeDash": {"value": [1, 0]}, "opacity": {"value": 1}}}}}},
  "strokeWidth": {"condition": [{"test": "datum.s === 'c'", "value": 3}, {"test": "datum.s === 'd'", "value": 4}], "value": 1.3}
 }},
 {"data": {"values": [{}]}, "mark": {"type": "rect", "fill": "white", "stroke": "#222", "strokeWidth": 2}, "encoding": {"x": {"datum": -0.46, "type": "quantitative", "axis": {"orient": "bottom", "values": [-1.2,-0.8,-0.4,0.4,0.8,1.2], "tickCount": 30, "labelExpr": "(datum.value < 0 ? '-' : '') + format(abs(datum.value), '.1f')", "labelOverlap": false, "labelBound": false, "labelFlush": false, "labelPadding": 13, "title": null}}, "x2": {"datum": 1.4}, "y": {"datum": 92.4}, "y2": {"datum": 114}}},
 {"data": {"values": [{}]}, "mark": {"type": "rect", "fill": "white", "stroke": "#222", "strokeWidth": 2}, "encoding": {"x": {"datum": 0.817, "type": "quantitative", "axis": null}, "x2": {"datum": 1.4}, "y": {"datum": 71.6}, "y2": {"datum": 92.4}}},
 {"data": {"values": [{}]}, "mark": {"type": "rule", "stroke": "white", "strokeWidth": 3}, "encoding": {"x": {"datum": 0.829, "type": "quantitative", "axis": null}, "x2": {"datum": 1.39}, "y": {"datum": 92.4}}},
 {"data": {"values": [{}]}, "mark": {"type": "text", "align": "right", "baseline": "middle", "fontSize": 25, "color": "#222"}, "encoding": {"x": {"datum": 1.366, "type": "quantitative", "axis": null}, "y": {"datum": 101.5}, "text": {"value": "CC Series, 𝑡₀=7 days, 𝑅=50%"}}},
 {"data": {"values": [{}]}, "mark": {"type": "text", "align": "right", "baseline": "middle", "fontSize": 25, "color": "#222"}, "encoding": {"x": {"datum": 1.366, "type": "quantitative", "axis": null}, "y": {"datum": 82}, "text": {"value": "CC-50-7"}}}
]},
{"width": 496, "height": 376, "resolve": {"axis": {"x": "independent"}}, "layer": [
 {"data": {"name": "p4"}, "mark": {"type": "line"}, "encoding": {
  "x": {"field": "e", "type": "quantitative", "scale": {"domain": [-1.4, 1.4], "nice": false, "zero": false}, "axis": {"orient": "bottom", "values": [-1.4,-1.0,-0.6,-0.2,0,0.2,0.6,1.0,1.4], "tickCount": 30, "labelExpr": "datum.value == 0 ? '0' : (datum.value < 0 ? '-' : '') + format(abs(datum.value), '.1f')", "labelOverlap": false, "labelBound": false, "labelFlush": false, "labelPadding": 4, "gridColor": {"condition": {"test": "datum.value === 0", "value": "#7a7a7a"}, "value": "#c8c8c8"}, "title": "Total Strain, ϵₜₒₜₐₗ (10⁻³*mm/mm)", "titleY": 50, "titleBaseline": "middle"}},
  "y": {"field": "y", "type": "quantitative", "scale": {"domain": [-114, 114], "nice": false, "zero": false}, "axis": {"values": [-114,-91.2,-68.4,-45.6,-22.8,0,22.8,45.6,68.4,91.2,114], "tickCount": 30, "labelExpr": "(datum.value < 0 ? '-' : '') + (abs(round(datum.value*10)) == 684 ? '69' : format(abs(datum.value), '.0f'))", "labelOverlap": false, "labelPadding": 6, "gridColor": {"condition": {"test": "datum.value === 0", "value": "#7a7a7a"}, "value": "#c8c8c8"}, "title": "Dist. From Mid-Height (mm)", "titleX": -52, "titleY": 194, "titleBaseline": "middle", "titleAlign": "center"}},
  "detail": {"field": "c", "type": "nominal"},
  "order": {"field": "y", "sort": "descending"},
  "color": {"field": "s", "type": "nominal", "scale": {"domain": ["a","b","inc","time","c","d"], "range": ["#3a3a3a","#949494","#1a1a1a","#1a1a1a","#8a8a8a","#1c1c1c"]}, "legend": {"orient": "none", "legendX": 14, "legendY": 215, "title": null, "padding": 5, "rowPadding": 0, "symbolSize": 121, "symbolOffset": 11, "labelOffset": 20.5, "labelFont": "Liberation Serif", "labelFontSize": 22, "labelColor": "#222", "labelLimit": 400, "fillColor": "white", "strokeColor": "#222", "labelExpr": "({'a': '𝑡 = 𝑡₀', 'b': '', 'inc': 'Increasing', 'time': 'Time', 'c': '', 'd': '𝑡 = 𝑡₀+119 days\u00a0\u2800'})[datum.value]", "encode": {"symbols": {"update": {"shape": {"signal": "(datum.value === 'inc' || datum.value === 'time') ? 'M0,0' : 'M-3.9,0H3.9'"}, "strokeWidth": {"signal": "datum.value === 'c' ? 3.2 : datum.value === 'd' ? 4 : 1.3"}, "fill": {"value": "transparent"}}}, "legend": {"update": {"strokeWidth": {"value": 2}}}}}},
  "strokeDash": {"datum": "arrow", "type": "nominal", "scale": {"domain": ["arrow"], "range": [[1, 0]]}, "legend": {"orient": "none", "legendX": 37.5, "legendY": 274.2, "zindex": 1, "title": null, "padding": 0, "symbolSize": 121, "symbolOffset": 0, "labelFontSize": 10, "labelExpr": "''", "encode": {"symbols": {"update": {"shape": {"value": "M0,-4.85V2M-1.1,1.6L0,4.85L1.1,1.6Z"}, "fill": {"value": "#1a1a1a"}, "stroke": {"value": "#1a1a1a"}, "strokeWidth": {"value": 1.8}, "strokeDash": {"value": [1, 0]}, "opacity": {"value": 1}}}}}},
  "strokeWidth": {"condition": [{"test": "datum.s === 'c'", "value": 3}, {"test": "datum.s === 'd'", "value": 4}], "value": 1.3}
 }},
 {"data": {"values": [{}]}, "mark": {"type": "rect", "fill": "white", "stroke": "#222", "strokeWidth": 2}, "encoding": {"x": {"datum": -0.496, "type": "quantitative", "axis": {"orient": "bottom", "values": [-1.2,-0.8,-0.4,0.4,0.8,1.2], "tickCount": 30, "labelExpr": "(datum.value < 0 ? '-' : '') + format(abs(datum.value), '.1f')", "labelOverlap": false, "labelBound": false, "labelFlush": false, "labelPadding": 13, "title": null}}, "x2": {"datum": 1.4}, "y": {"datum": 92.4}, "y2": {"datum": 114}}},
 {"data": {"values": [{}]}, "mark": {"type": "rect", "fill": "white", "stroke": "#222", "strokeWidth": 2}, "encoding": {"x": {"datum": 0.76, "type": "quantitative", "axis": null}, "x2": {"datum": 1.4}, "y": {"datum": 71.6}, "y2": {"datum": 92.4}}},
 {"data": {"values": [{}]}, "mark": {"type": "rule", "stroke": "white", "strokeWidth": 3}, "encoding": {"x": {"datum": 0.772, "type": "quantitative", "axis": null}, "x2": {"datum": 1.39}, "y": {"datum": 92.4}}},
 {"data": {"values": [{}]}, "mark": {"type": "text", "align": "right", "baseline": "middle", "fontSize": 25, "color": "#222"}, "encoding": {"x": {"datum": 1.366, "type": "quantitative", "axis": null}, "y": {"datum": 101.5}, "text": {"value": "CC Series, 𝑡₀=28 days, 𝑅=50%"}}},
 {"data": {"values": [{}]}, "mark": {"type": "text", "align": "right", "baseline": "middle", "fontSize": 25, "color": "#222"}, "encoding": {"x": {"datum": 1.366, "type": "quantitative", "axis": null}, "y": {"datum": 82}, "text": {"value": "CC-50-28"}}}
]},
{"width": 496, "height": 376, "title": {"text": "(a)", "orient": "bottom", "offset": 14}, "resolve": {"axis": {"x": "independent"}}, "layer": [
 {"data": {"name": "p5"}, "mark": {"type": "line"}, "encoding": {
  "x": {"field": "e", "type": "quantitative", "scale": {"domain": [-1.4, 1.4], "nice": false, "zero": false}, "axis": {"orient": "bottom", "values": [-1.4,-1.0,-0.6,-0.2,0,0.2,0.6,1.0,1.4], "tickCount": 30, "labelExpr": "datum.value == 0 ? '0' : (datum.value < 0 ? '-' : '') + format(abs(datum.value), '.1f')", "labelOverlap": false, "labelBound": false, "labelFlush": false, "labelPadding": 4, "gridColor": {"condition": {"test": "datum.value === 0", "value": "#7a7a7a"}, "value": "#c8c8c8"}, "title": "Total Strain, ϵₜₒₜₐₗ (10⁻³*mm/mm)", "titleY": 50, "titleBaseline": "middle"}},
  "y": {"field": "y", "type": "quantitative", "scale": {"domain": [-114, 114], "nice": false, "zero": false}, "axis": {"values": [-114,-91.2,-68.4,-45.6,-22.8,0,22.8,45.6,68.4,91.2,114], "tickCount": 30, "labelExpr": "(datum.value < 0 ? '-' : '') + (abs(round(datum.value*10)) == 684 ? '69' : format(abs(datum.value), '.0f'))", "labelOverlap": false, "labelPadding": 6, "gridColor": {"condition": {"test": "datum.value === 0", "value": "#7a7a7a"}, "value": "#c8c8c8"}, "title": "Dist. From Mid-Height (mm)", "titleX": -52, "titleY": 194, "titleBaseline": "middle", "titleAlign": "center"}},
  "detail": {"field": "c", "type": "nominal"},
  "order": {"field": "y", "sort": "descending"},
  "color": {"field": "s", "type": "nominal", "scale": {"domain": ["a","b","inc","time","c","d"], "range": ["#3a3a3a","#949494","#1a1a1a","#1a1a1a","#8a8a8a","#1c1c1c"]}, "legend": {"orient": "none", "legendX": 14, "legendY": 215, "title": null, "padding": 5, "rowPadding": 0, "symbolSize": 121, "symbolOffset": 11, "labelOffset": 20.5, "labelFont": "Liberation Serif", "labelFontSize": 22, "labelColor": "#222", "labelLimit": 400, "fillColor": "white", "strokeColor": "#222", "labelExpr": "({'a': '𝑡 = 𝑡₀', 'b': '', 'inc': 'Increasing', 'time': 'Time', 'c': '', 'd': '𝑡 = 𝑡₀+119 days\u00a0\u2800'})[datum.value]", "encode": {"symbols": {"update": {"shape": {"signal": "(datum.value === 'inc' || datum.value === 'time') ? 'M0,0' : 'M-3.9,0H3.9'"}, "strokeWidth": {"signal": "datum.value === 'c' ? 3.2 : datum.value === 'd' ? 4 : 1.3"}, "fill": {"value": "transparent"}}}, "legend": {"update": {"strokeWidth": {"value": 2}}}}}},
  "strokeDash": {"datum": "arrow", "type": "nominal", "scale": {"domain": ["arrow"], "range": [[1, 0]]}, "legend": {"orient": "none", "legendX": 37.5, "legendY": 274.2, "zindex": 1, "title": null, "padding": 0, "symbolSize": 121, "symbolOffset": 0, "labelFontSize": 10, "labelExpr": "''", "encode": {"symbols": {"update": {"shape": {"value": "M0,-4.85V2M-1.1,1.6L0,4.85L1.1,1.6Z"}, "fill": {"value": "#1a1a1a"}, "stroke": {"value": "#1a1a1a"}, "strokeWidth": {"value": 1.8}, "strokeDash": {"value": [1, 0]}, "opacity": {"value": 1}}}}}},
  "strokeWidth": {"condition": [{"test": "datum.s === 'c'", "value": 3}, {"test": "datum.s === 'd'", "value": 4}], "value": 1.3}
 }},
 {"data": {"values": [{}]}, "mark": {"type": "rect", "fill": "white", "stroke": "#222", "strokeWidth": 2}, "encoding": {"x": {"datum": -0.534, "type": "quantitative", "axis": {"orient": "bottom", "values": [-1.2,-0.8,-0.4,0.4,0.8,1.2], "tickCount": 30, "labelExpr": "(datum.value < 0 ? '-' : '') + format(abs(datum.value), '.1f')", "labelOverlap": false, "labelBound": false, "labelFlush": false, "labelPadding": 13, "title": null}}, "x2": {"datum": 1.4}, "y": {"datum": 92.4}, "y2": {"datum": 114}}},
 {"data": {"values": [{}]}, "mark": {"type": "rect", "fill": "white", "stroke": "#222", "strokeWidth": 2}, "encoding": {"x": {"datum": 0.76, "type": "quantitative", "axis": null}, "x2": {"datum": 1.4}, "y": {"datum": 71.6}, "y2": {"datum": 92.4}}},
 {"data": {"values": [{}]}, "mark": {"type": "rule", "stroke": "white", "strokeWidth": 3}, "encoding": {"x": {"datum": 0.772, "type": "quantitative", "axis": null}, "x2": {"datum": 1.39}, "y": {"datum": 92.4}}},
 {"data": {"values": [{}]}, "mark": {"type": "text", "align": "right", "baseline": "middle", "fontSize": 25, "color": "#222"}, "encoding": {"x": {"datum": 1.366, "type": "quantitative", "axis": null}, "y": {"datum": 101.5}, "text": {"value": "CC Series, 𝑡₀=7 days, 𝑅=100%"}}},
 {"data": {"values": [{}]}, "mark": {"type": "text", "align": "right", "baseline": "middle", "fontSize": 25, "color": "#222"}, "encoding": {"x": {"datum": 1.366, "type": "quantitative", "axis": null}, "y": {"datum": 82}, "text": {"value": "CC-100-7"}}}
]},
{"width": 496, "height": 376, "title": {"text": "(b)", "orient": "bottom", "offset": 14}, "resolve": {"axis": {"x": "independent"}}, "layer": [
 {"data": {"name": "p6"}, "mark": {"type": "line"}, "encoding": {
  "x": {"field": "e", "type": "quantitative", "scale": {"domain": [-1.4, 1.4], "nice": false, "zero": false}, "axis": {"orient": "bottom", "values": [-1.4,-1.0,-0.6,-0.2,0,0.2,0.6,1.0,1.4], "tickCount": 30, "labelExpr": "datum.value == 0 ? '0' : (datum.value < 0 ? '-' : '') + format(abs(datum.value), '.1f')", "labelOverlap": false, "labelBound": false, "labelFlush": false, "labelPadding": 4, "gridColor": {"condition": {"test": "datum.value === 0", "value": "#7a7a7a"}, "value": "#c8c8c8"}, "title": "Total Strain, ϵₜₒₜₐₗ (10⁻³*mm/mm)", "titleY": 50, "titleBaseline": "middle"}},
  "y": {"field": "y", "type": "quantitative", "scale": {"domain": [-114, 114], "nice": false, "zero": false}, "axis": {"values": [-114,-91.2,-68.4,-45.6,-22.8,0,22.8,45.6,68.4,91.2,114], "tickCount": 30, "labelExpr": "(datum.value < 0 ? '-' : '') + (abs(round(datum.value*10)) == 684 ? '69' : format(abs(datum.value), '.0f'))", "labelOverlap": false, "labelPadding": 6, "gridColor": {"condition": {"test": "datum.value === 0", "value": "#7a7a7a"}, "value": "#c8c8c8"}, "title": "Dist. From Mid-Height (mm)", "titleX": -52, "titleY": 194, "titleBaseline": "middle", "titleAlign": "center"}},
  "detail": {"field": "c", "type": "nominal"},
  "order": {"field": "y", "sort": "descending"},
  "color": {"field": "s", "type": "nominal", "scale": {"domain": ["a","b","inc","time","c","d"], "range": ["#3a3a3a","#949494","#1a1a1a","#1a1a1a","#8a8a8a","#1c1c1c"]}, "legend": {"orient": "none", "legendX": 14, "legendY": 215, "title": null, "padding": 5, "rowPadding": 0, "symbolSize": 121, "symbolOffset": 11, "labelOffset": 20.5, "labelFont": "Liberation Serif", "labelFontSize": 22, "labelColor": "#222", "labelLimit": 400, "fillColor": "white", "strokeColor": "#222", "labelExpr": "({'a': '𝑡 = 𝑡₀', 'b': '', 'inc': 'Increasing', 'time': 'Time', 'c': '', 'd': '𝑡 = 𝑡₀+119 days\u00a0\u2800'})[datum.value]", "encode": {"symbols": {"update": {"shape": {"signal": "(datum.value === 'inc' || datum.value === 'time') ? 'M0,0' : 'M-3.9,0H3.9'"}, "strokeWidth": {"signal": "datum.value === 'c' ? 3.2 : datum.value === 'd' ? 4 : 1.3"}, "fill": {"value": "transparent"}}}, "legend": {"update": {"strokeWidth": {"value": 2}}}}}},
  "strokeDash": {"datum": "arrow", "type": "nominal", "scale": {"domain": ["arrow"], "range": [[1, 0]]}, "legend": {"orient": "none", "legendX": 37.5, "legendY": 274.2, "zindex": 1, "title": null, "padding": 0, "symbolSize": 121, "symbolOffset": 0, "labelFontSize": 10, "labelExpr": "''", "encode": {"symbols": {"update": {"shape": {"value": "M0,-4.85V2M-1.1,1.6L0,4.85L1.1,1.6Z"}, "fill": {"value": "#1a1a1a"}, "stroke": {"value": "#1a1a1a"}, "strokeWidth": {"value": 1.8}, "strokeDash": {"value": [1, 0]}, "opacity": {"value": 1}}}}}},
  "strokeWidth": {"condition": [{"test": "datum.s === 'c'", "value": 3}, {"test": "datum.s === 'd'", "value": 4}], "value": 1.3}
 }},
 {"data": {"values": [{}]}, "mark": {"type": "rect", "fill": "white", "stroke": "#222", "strokeWidth": 2}, "encoding": {"x": {"datum": -0.606, "type": "quantitative", "axis": {"orient": "bottom", "values": [-1.2,-0.8,-0.4,0.4,0.8,1.2], "tickCount": 30, "labelExpr": "(datum.value < 0 ? '-' : '') + format(abs(datum.value), '.1f')", "labelOverlap": false, "labelBound": false, "labelFlush": false, "labelPadding": 13, "title": null}}, "x2": {"datum": 1.4}, "y": {"datum": 92.4}, "y2": {"datum": 114}}},
 {"data": {"values": [{}]}, "mark": {"type": "rect", "fill": "white", "stroke": "#222", "strokeWidth": 2}, "encoding": {"x": {"datum": 0.69, "type": "quantitative", "axis": null}, "x2": {"datum": 1.4}, "y": {"datum": 71.6}, "y2": {"datum": 92.4}}},
 {"data": {"values": [{}]}, "mark": {"type": "rule", "stroke": "white", "strokeWidth": 3}, "encoding": {"x": {"datum": 0.702, "type": "quantitative", "axis": null}, "x2": {"datum": 1.39}, "y": {"datum": 92.4}}},
 {"data": {"values": [{}]}, "mark": {"type": "text", "align": "right", "baseline": "middle", "fontSize": 25, "color": "#222"}, "encoding": {"x": {"datum": 1.366, "type": "quantitative", "axis": null}, "y": {"datum": 101.5}, "text": {"value": "CC Series, 𝑡₀=28 days, 𝑅=100%"}}},
 {"data": {"values": [{}]}, "mark": {"type": "text", "align": "right", "baseline": "middle", "fontSize": 25, "color": "#222"}, "encoding": {"x": {"datum": 1.366, "type": "quantitative", "axis": null}, "y": {"datum": 82}, "text": {"value": "CC-100-28"}}}
]}
]
}
